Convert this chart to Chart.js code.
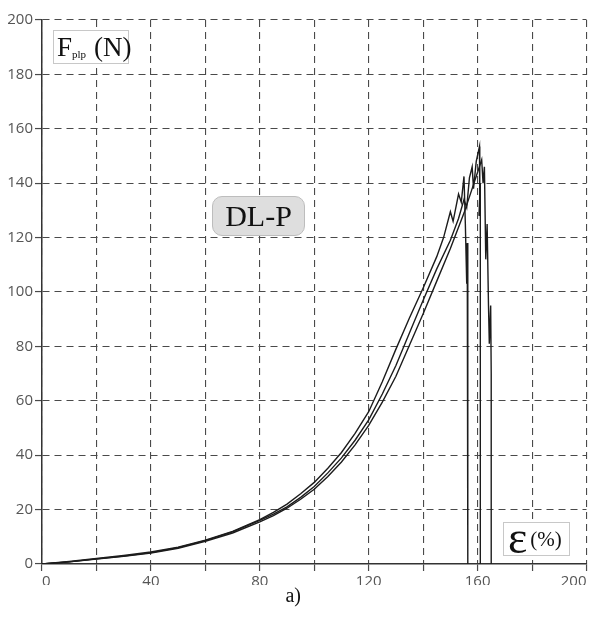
<!DOCTYPE html>
<html>
<head>
<meta charset="utf-8">
<script src="https://cdn.jsdelivr.net/npm/chart.js@4"></script>
<style>
  html, body { margin: 0; padding: 0; background: #fff; overflow: hidden; }
  #wrap { position: relative; width: 589px; height: 621px; }
  canvas { display: block; }
  .box {
    position: absolute;
    font-family: "Liberation Serif", "DejaVu Serif", serif;
    color: #111;
    background: #fff;
    border: 1px solid #c8c8c8;
    box-sizing: border-box;
    white-space: nowrap;
  }
  #yName { left: 53px; top: 30px; width: 76px; height: 34px; font-size: 27px; line-height: 32px; padding-left: 3px; }
  #yName sub { font-size: 11px; vertical-align: -2px; margin-right: 8px; }
  #tag { left: 212px; top: 196px; width: 93px; height: 40px; border-radius: 10px; background: #dedede; border-color: #bdbdbd;
         font-size: 30px; line-height: 38px; text-align: center; }
  #xName { left: 503px; top: 522px; width: 67px; height: 34px; line-height: 30px; padding-left: 4px; }
  #xName .eps { font-size: 46px; vertical-align: -3px; }
  #xName .pc { font-size: 21px; vertical-align: 4px; margin-left: 3px; }
</style>
</head>
<body>
<div id="wrap">
  <canvas id="chart" width="589" height="621"></canvas>
  <div class="box" id="yName">F<sub>plp</sub>(N)</div>
  <div class="box" id="tag">DL-P</div>
  <div class="box" id="xName"><span class="eps">ε</span><span class="pc">(%)</span></div>
</div>
<script>
// Ejes: deformación (%) y fuerza (N)
const xTicks = [0, 40, 80, 120, 160, 200];
const yTicks = [0, 20, 40, 60, 80, 100, 120, 140, 160, 180, 200];

// Probeta 1 (curva superior, rompe antes)
const strainA = [0, 10, 20, 30, 40, 50, 60, 70, 80, 85, 90, 95, 100, 105, 110, 115, 120, 125, 130, 135, 140, 145, 147.5, 150, 151, 153, 154, 155, 155.5, 156, 156.2, 156.4, 156.4];
const forceA  = [0, 0.9, 2, 3.1, 4.4, 6.2, 8.8, 12, 16.3, 19, 22, 25.8, 30, 35.2, 41, 48, 56, 67, 79, 90.5, 101.5, 113, 120, 129.5, 126, 136, 133, 142.5, 125, 103, 118, 60, 0];

// Probeta 2 (curva central)
const strainB = [0, 10, 20, 30, 40, 50, 60, 70, 80, 85, 90, 95, 100, 105, 110, 115, 120, 125, 130, 135, 140, 145, 150, 153, 155, 156, 157, 158, 158.5, 159.5, 160.7, 160.8, 160.5, 161, 161];
const forceB  = [0, 0.8, 1.9, 2.9, 4.2, 6, 8.6, 11.8, 16, 18.3, 21, 24.5, 28.5, 33.5, 39, 45.5, 53, 62.5, 73, 85, 97, 108.5, 119, 127, 134, 131, 142, 146, 138, 148, 153.5, 130, 128, 140, 0];

// Probeta 3 (curva inferior, rompe después)
const strainC = [0, 10, 20, 30, 40, 50, 60, 70, 80, 85, 90, 95, 100, 105, 110, 115, 120, 125, 130, 135, 140, 145, 150, 155, 158, 160, 161.5, 162, 162.5, 163, 163.5, 164, 164.3, 164.8, 165, 165];
const forceC  = [0, 0.8, 1.8, 2.8, 4, 5.8, 8.3, 11.4, 15.5, 17.8, 20.5, 23.8, 27.5, 32.2, 37.5, 43.8, 51, 59.5, 69, 80.5, 92, 104, 116, 129, 138, 144, 148.6, 140, 146, 112, 125, 95, 81, 95, 70, 0];

function toPoints(xs, ys) {
  return xs.map((x, i) => ({ x, y: ys[i] }));
}

function curve(xs, ys) {
  return {
    data: toPoints(xs, ys),
    showLine: true,
    borderColor: "#1c1c1c",
    borderWidth: 1.4,
    pointRadius: 0,
    tension: 0
  };
}

const gridStyle = {
  color: "#4a4a4a",
  lineWidth: 1.1,
  tickLength: 7,
  tickColor: "#4a4a4a",
  tickWidth: 1.2
};

new Chart(document.getElementById("chart").getContext("2d"), {
  type: "scatter",
  data: {
    datasets: [curve(strainA, forceA), curve(strainB, forceB), curve(strainC, forceC)]
  },
  options: {
    responsive: false,
    animation: false,
    layout: { padding: { left: 0, right: 2.5, top: 20, bottom: 0 } },
    plugins: {
      legend: { display: false },
      tooltip: { enabled: false },
      title: {
        display: true,
        position: "bottom",
        text: "a)",
        color: "#111",
        font: { family: "Liberation Serif", size: 20, weight: "normal" },
        padding: { top: 0, bottom: 12 }
      }
    },
    scales: {
      x: {
        type: "linear",
        min: 0,
        max: 200,
        afterFit: (s) => {
          s.height = 21;
          s.paddingLeft = 0;
          s.paddingRight = 0;
        },
        ticks: {
          stepSize: 20,
          color: "#555",
          padding: 2,
          maxRotation: 0,
          align: "inner",
          font: { family: "Open Sans", size: 15 },
          callback: (v) => (xTicks.includes(v) ? v : "")
        },
        grid: gridStyle,
        border: { display: true, color: "#333", width: 1.5, dash: [7, 5] }
      },
      y: {
        min: 0,
        max: 200,
        afterFit: (s) => { s.width = 42; },
        ticks: {
          stepSize: 20,
          color: "#555",
          padding: 2,
          font: { family: "Open Sans", size: 15 },
          callback: (v) => (yTicks.includes(v) ? v : "")
        },
        grid: gridStyle,
        border: { display: true, color: "#333", width: 1.5, dash: [7, 5] }
      }
    }
  }
});
</script>
</body>
</html>
